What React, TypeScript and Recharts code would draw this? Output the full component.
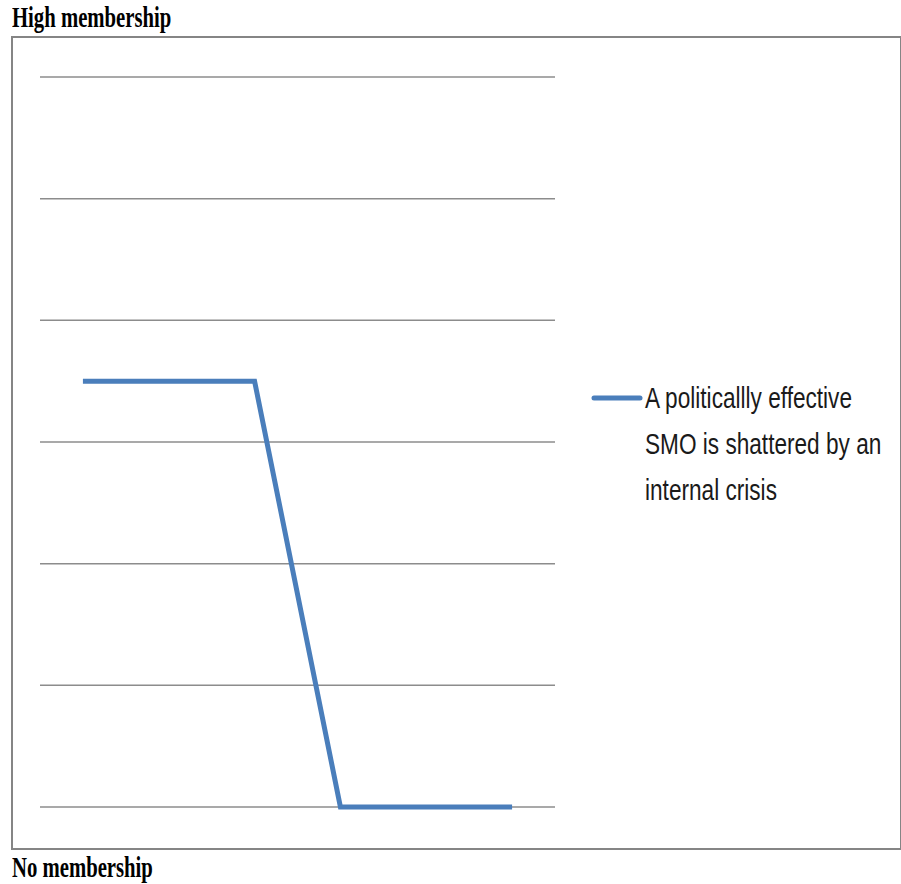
import React from 'react'
import { LineChart, Line, XAxis, YAxis, CartesianGrid, Legend } from 'recharts'

// ── Data ─────────────────────────────────────────────────────────────
const PERIODS = ['t1', 't2', 't3', 't4', 't5', 't6']
const MEMBERSHIP = [3.5, 3.5, 3.5, 0, 0, 0]
const Y_TICKS = [0, 1, 2, 3, 4, 5, 6]
const SERIES_NAME = 'A politicallly effective SMO is shattered by an internal crisis'
const LEGEND_LINES = ['A politicallly effective', 'SMO is shattered by an', 'internal crisis']

const data = PERIODS.map((p, i) => ({ period: p, value: MEMBERSHIP[i] }))

const BLUE = '#4a7ebb'

// Legend drawn in a zero-height wrapper so it doesn't eat plot space
function LegendContent() {
  return (
    <div style={{ position: 'relative', height: 0 }}>
      <svg width={300} height={150} style={{ position: 'absolute', left: 0, top: 0, overflow: 'visible' }}>
        <line x1={4} y1={24} x2={50} y2={24} stroke={BLUE} strokeWidth={5} strokeLinecap="round" />
        {LEGEND_LINES.map((t, i) => (
          <text
            key={t}
            x={0}
            y={0}
            transform={`translate(55, ${34 + i * 46}) scale(0.78, 1)`}
            fontFamily="'Liberation Sans', Arial, sans-serif"
            fontSize={29}
            fill="#1a1a1a"
          >
            {t}
          </text>
        ))}
      </svg>
    </div>
  )
}

const labelStyle: React.CSSProperties = {
  position: 'absolute',
  left: 12,
  fontFamily: "'Liberation Serif', 'Times New Roman', serif",
  fontWeight: 700,
  fontSize: 30,
  color: '#000',
  transform: 'scaleX(0.69)',
  transformOrigin: 'left top',
  whiteSpace: 'nowrap',
  lineHeight: '30px',
}

export default function App() {
  return (
    <div style={{ position: 'absolute', left: 0, top: 0, width: 901, height: 884, background: '#fff' }}>
      <div style={{ ...labelStyle, top: 2 }}>High membership</div>
      <div style={{ ...labelStyle, top: 852 }}>No membership</div>
      <div
        style={{
          position: 'absolute',
          left: 11,
          top: 36,
          width: 887,
          height: 810,
          border: '2px solid #858585',
        }}
      />
      <div style={{ position: 'absolute', left: 0, top: 0 }}>
        <LineChart width={901} height={884} data={data} margin={{ top: 77, right: 346, bottom: 77, left: 40 }}>
          <CartesianGrid vertical={false} stroke="#8c8c8c" strokeWidth={1.5} />
          <XAxis dataKey="period" hide scale="band" />
          <YAxis hide domain={[0, 6]} ticks={Y_TICKS} />
          <Legend
            content={<LegendContent />}
            wrapperStyle={{ position: 'absolute', left: 590, top: 374, width: 300, height: 0 }}
          />
          <Line
            type="linear"
            dataKey="value"
            name={SERIES_NAME}
            stroke={BLUE}
            strokeWidth={5}
            dot={false}
            isAnimationActive={false}
          />
        </LineChart>
      </div>
    </div>
  )
}
